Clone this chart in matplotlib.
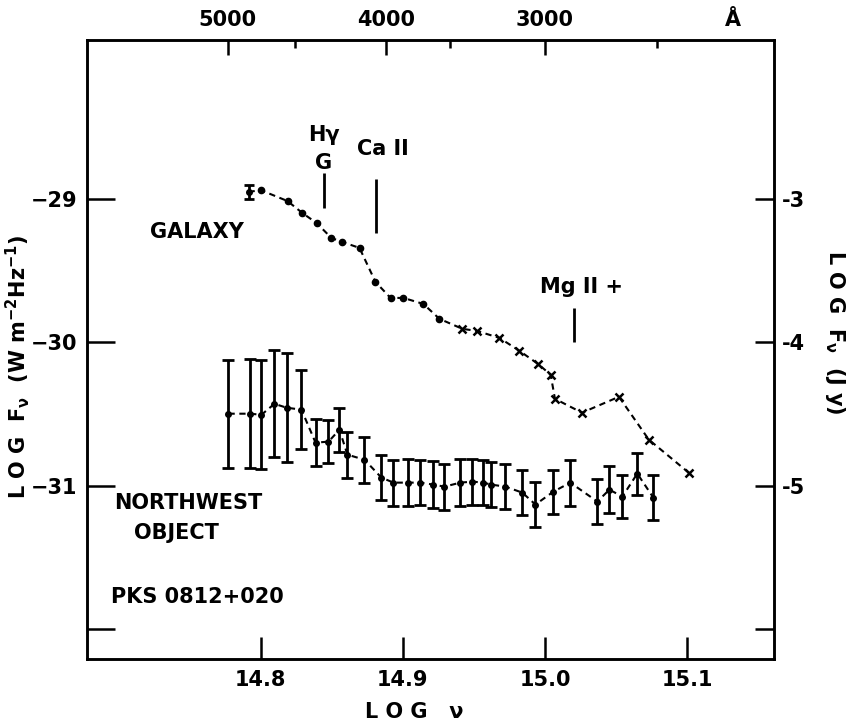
"""Spectrum of PKS 0812+020: galaxy and northwest object."""
import matplotlib
matplotlib.use("Agg")
import matplotlib.pyplot as plt

# galaxy: filled dots then crosses (log nu, log F_nu in W m^-2 Hz^-1)
GAL_DOT_NU = [14.7916, 14.800, 14.819, 14.8295, 14.8394, 14.8499, 14.8576,
              14.8696, 14.8808, 14.8914, 14.9005, 14.9145, 14.9258]
GAL_DOT_F = [-28.951, -28.937, -29.014, -29.098, -29.167, -29.272, -29.300,
             -29.341, -29.578, -29.690, -29.690, -29.732, -29.836]
GAL_X_NU = [14.942, 14.952, 14.968, 14.982, 14.995, 15.004, 15.007,
            15.026, 15.052, 15.073, 15.101]
GAL_X_F = [-29.906, -29.920, -29.969, -30.059, -30.150, -30.226, -30.394,
           -30.491, -30.380, -30.679, -30.909]
GAL_ERR_NU = [14.7916]
GAL_ERR_F = [-28.951]
GAL_ERR = [0.05]

# northwest object with error bars
NW_NU = [14.7775, 14.7923, 14.8007, 14.8098, 14.8183, 14.8288, 14.8387,
         14.8478, 14.8555, 14.8611, 14.8731, 14.8850, 14.8935, 14.9040,
         14.9124, 14.9216, 14.9293, 14.9405, 14.9490, 14.9567, 14.9623,
         14.9722, 14.9841, 14.9933, 15.0059, 15.0178, 15.0368, 15.0453,
         15.0544, 15.0649, 15.0762]
NW_F = [-30.498, -30.498, -30.505, -30.429, -30.456, -30.470, -30.700,
        -30.693, -30.610, -30.784, -30.819, -30.944, -30.979, -30.979,
        -30.979, -30.993, -31.007, -30.979, -30.972, -30.979, -30.993,
        -31.007, -31.049, -31.132, -31.042, -30.979, -31.111, -31.028,
        -31.077, -30.916, -31.084]
NW_ERR = [0.376, 0.38, 0.38, 0.373, 0.38, 0.275, 0.164, 0.15, 0.153, 0.16,
          0.16, 0.157, 0.16, 0.164, 0.157, 0.164, 0.16, 0.164, 0.16, 0.157,
          0.157, 0.157, 0.157, 0.157, 0.153, 0.16, 0.157, 0.164, 0.15,
          0.146, 0.157]

# spectral feature markers: (log nu, bottom, top)
LINE_NU = [14.8443, 14.881, 15.0207]
LINE_LO = [-29.06, -29.24, -30.0]
LINE_HI = [-28.82, -28.86, -29.76]

# top wavelength axis, positions as drawn on the original
TOP_MAJOR = [14.777, 14.888, 15.0]
TOP_LABELS = ["5000", "4000", "3000"]
TOP_MINOR = [14.824, 14.9335, 15.0785]

LEFT_TICKS = [-29, -30, -31, -32]
LEFT_LABELS = ["\u221229", "\u221230", "\u221231", ""]
RIGHT_TICKS = [-3, -4, -5, -6]
RIGHT_LABELS = ["-3", "-4", "-5", ""]
BOTTOM_TICKS = [14.8, 14.9, 15.0, 15.1]
BOTTOM_LABELS = ["14.8", "14.9", "15.0", "15.1"]

XLIM = (14.678, 15.161)
YLIM = (-32.21, -27.89)
JY_OFFSET = 26

K = "black"
FS = 15
plt.rcParams["font.weight"] = "bold"
plt.rcParams["axes.labelweight"] = "bold"
plt.rcParams["mathtext.default"] = "bf"

fig = plt.figure(figsize=(8.51, 7.27), dpi=100)
ax = fig.add_axes([0.1022, 0.0935, 0.8073, 0.8515])
ax.set_xlim(*XLIM)
ax.set_ylim(*YLIM)

dash = (0, (3.0, 2.2))
ax.plot(GAL_ERR_NU + GAL_DOT_NU + GAL_X_NU, GAL_ERR_F + GAL_DOT_F + GAL_X_F,
        color=K, lw=1.5, ls=dash)
ax.plot(GAL_DOT_NU[1:], GAL_DOT_F[1:], "o", color=K, ms=4.5)
ax.plot(GAL_X_NU, GAL_X_F, "x", color=K, ms=6, mew=1.8)
ax.errorbar(GAL_ERR_NU, GAL_ERR_F, yerr=GAL_ERR, fmt="o", color=K, ms=4,
            elinewidth=2, capsize=3.5, capthick=2)

ax.plot(NW_NU, NW_F, color=K, lw=1.5, ls=dash)
ax.errorbar(NW_NU, NW_F, yerr=NW_ERR, fmt="o", color=K, ms=4,
            elinewidth=2, capsize=4.5, capthick=2)

ax.vlines(LINE_NU, LINE_LO, LINE_HI, color=K, lw=2)

tk = dict(fontsize=FS, color=K)
ax.text(14.8443, -28.55, "H\u03b3", ha="center", va="center", **tk)
ax.text(14.8443, -28.75, "G", ha="center", va="center", **tk)
ax.text(14.886, -28.65, "Ca II", ha="center", va="center", **tk)
ax.text(15.026, -29.615, "Mg II +", ha="center", va="center", **tk)
ax.text(14.755, -29.23, "GALAXY", ha="center", va="center", **tk)
ax.text(14.749, -31.12, "NORTHWEST", ha="center", va="center", **tk)
ax.text(14.741, -31.33, "OBJECT", ha="center", va="center", **tk)
ax.text(14.7557, -31.78, "PKS 0812+020", ha="center", va="center", **tk)

for s in ax.spines.values():
    s.set_linewidth(1.8)

ax.set_xticks(BOTTOM_TICKS)
ax.set_xticklabels(BOTTOM_LABELS, fontsize=FS)
ax.set_yticks(LEFT_TICKS)
ax.set_yticklabels(LEFT_LABELS, fontsize=FS)
ax.tick_params(axis="x", direction="in", length=16, width=1.8, pad=8)
ax.tick_params(axis="y", direction="in", length=20, width=1.8, pad=7)

ax.set_xlabel("L O G   \u03bd", fontsize=FS, va="center")
ax.xaxis.set_label_coords(0.477, -0.086)
ax.set_ylabel("L O G  F$_\u03bd$  (W m$^{-2}$Hz$^{-1}$)", fontsize=FS,
              va="center")
ax.yaxis.set_label_coords(-0.101, 0.472)

ax_r = ax.twinx()
ax_r.set_ylim(YLIM[0] + JY_OFFSET, YLIM[1] + JY_OFFSET)
ax_r.set_yticks(RIGHT_TICKS)
ax_r.set_yticklabels(RIGHT_LABELS, fontsize=FS)
ax_r.tick_params(axis="y", direction="in", length=14, width=1.8, pad=6)
ax_r.set_ylabel("L O G  F$_\u03bd$  (J y)", fontsize=FS, rotation=270,
                va="center")
ax_r.yaxis.set_label_coords(1.089, 0.527)
for s in ax_r.spines.values():
    s.set_linewidth(1.8)

ax_t = ax.twiny()
ax_t.set_xlim(*XLIM)
ax_t.set_xticks(TOP_MAJOR)
ax_t.set_xticklabels(TOP_LABELS, fontsize=FS)
ax_t.set_xticks(TOP_MINOR, minor=True)
ax_t.tick_params(axis="x", which="major", direction="in", length=11, width=1.8, pad=7)
ax_t.tick_params(axis="x", which="minor", direction="in", length=6, width=1.8)
ax_t.annotate("\u00c5", xy=(15.1324, 1), xycoords=("data", "axes fraction"),
              xytext=(0, 7), textcoords="offset points",
              ha="center", va="bottom", fontsize=FS)

fig.savefig("out.png", dpi=100)
